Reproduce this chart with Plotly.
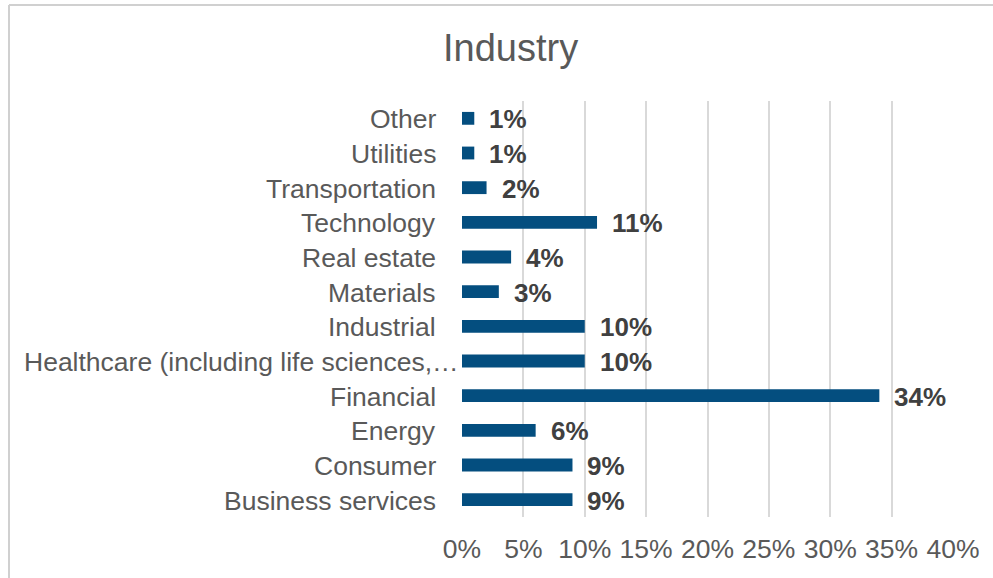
import plotly.graph_objects as go

# Industry breakdown (percent of respondents), bottom-to-top order
categories = [
    "Business services",
    "Consumer",
    "Energy",
    "Financial",
    "Healthcare (including life sciences,\u2026",
    "Industrial",
    "Materials",
    "Real estate",
    "Technology",
    "Transportation",
    "Utilities",
    "Other",
]
values = [9, 9, 6, 34, 10, 10, 3, 4, 11, 2, 1, 1]
x_ticks = [0, 5, 10, 15, 20, 25, 30, 35, 40]
x_tick_labels = [f"{t}%" for t in x_ticks]

W, H = 993, 578
L, R, T, B = 462, 40, 101, 61
PW, PH = W - L - R, H - T - B

BAR = "#044e7f"
GRID = "#d9d9d9"
TXT = "#595959"
LBL = "#404040"
FONT = "Liberation Sans, Arial, sans-serif"

fig = go.Figure(
    go.Bar(
        x=values,
        y=categories,
        orientation="h",
        marker=dict(color=BAR, line=dict(width=0)),
        width=0.37,
        hoverinfo="skip",
    )
)

annotations = []
# value labels to the right of each bar
for c, v in zip(categories, values):
    annotations.append(dict(
        x=v, y=c, xref="x", yref="y", text=f"<b>{v}%</b>",
        showarrow=False, xanchor="left", yanchor="middle", xshift=13, yshift=-1,
        font=dict(family=FONT, size=26, color=LBL),
    ))
# category labels
for c in categories:
    shift = -1 if c.endswith("\u2026") else -24
    annotations.append(dict(
        x=0, y=c, xref="paper", yref="y", text=c,
        showarrow=False, xanchor="right", yanchor="middle", xshift=shift, yshift=-1,
        font=dict(family=FONT, size=26.5, color=TXT),
    ))
# chart title
annotations.append(dict(
    x=(510 - L) / PW, y=(H - B - 48) / PH, xref="paper", yref="paper",
    text="Industry", showarrow=False, xanchor="center", yanchor="middle",
    font=dict(family=FONT, size=38, color=TXT),
))


def px_x(p):
    return (p - L) / PW


def px_y(p):
    return (H - B - p) / PH


shapes = [
    # chart-area border (top and left edges)
    dict(type="line", xref="paper", yref="paper", x0=px_x(9), x1=px_x(1000),
         y0=px_y(5), y1=px_y(5), line=dict(color="#d0d0d0", width=2)),
    dict(type="line", xref="paper", yref="paper", x0=px_x(9), x1=px_x(9),
         y0=px_y(5), y1=px_y(600), line=dict(color="#d0d0d0", width=2)),
]

fig.update_layout(
    width=W, height=H,
    margin=dict(l=L, r=R, t=T, b=B, pad=0),
    paper_bgcolor="white", plot_bgcolor="white",
    showlegend=False,
    bargap=0.63,
    annotations=annotations,
    shapes=shapes,
    xaxis=dict(
        range=[0, 40], tickvals=x_ticks, ticktext=x_tick_labels,
        showgrid=True, gridcolor=GRID, gridwidth=1.5,
        zeroline=False, showline=False, ticks="",
        tickfont=dict(family=FONT, size=26.5, color=TXT),
        ticklabelstandoff=13,
        fixedrange=True,
    ),
    yaxis=dict(
        categoryorder="array", categoryarray=categories,
        range=[-0.5, len(categories) - 0.5],
        showticklabels=False, showgrid=False, zeroline=False, showline=False,
        ticks="", fixedrange=True,
    ),
)

fig.write_html("out.html", config={"displayModeBar": False})
